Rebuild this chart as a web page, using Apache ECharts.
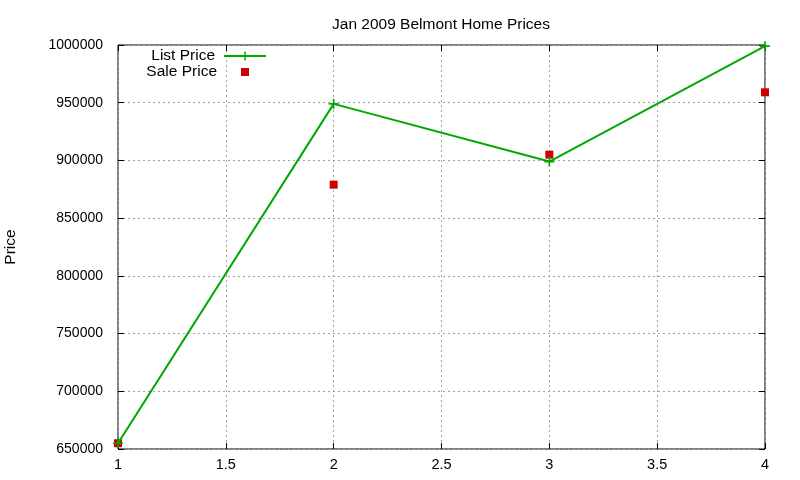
<!DOCTYPE html>
<html>
<head>
<meta charset="utf-8">
<script src="https://cdn.jsdelivr.net/npm/echarts@6/dist/echarts.min.js"></script>
<style>
  html, body { margin: 0; padding: 0; background: #fff; }
  #chart { width: 800px; height: 480px; }
</style>
</head>
<body>
<div id="chart"></div>
<script>
// home numbers (x = house index)
var houses = [1, 2, 3, 4];
var listPrice = [655000, 949000, 899000, 999000];
var salePrice = [655000, 879000, 905000, 959000];

var FONT = '"Liberation Sans", Arial, sans-serif';
var GREEN = '#00a800';
var RED = '#cc0000';
var PLUS = 'path://M4.2,0H5.8V4.2H10V5.8H5.8V10H4.2V5.8H0V4.2H4.2Z';

function pairs(xs, ys) {
    var out = [];
    for (var i = 0; i < xs.length; i++) {
        out.push([xs[i], ys[i]]);
    }
    return out;
}

var myChart = echarts.init(document.getElementById('chart'));
var option = {
    animation: false,
    backgroundColor: '#fff',
    title: {
        text: 'Jan 2009 Belmont Home Prices',
        left: 436,
        textAlign: 'center',
        top: 12,
        textStyle: { fontFamily: FONT, fontSize: 15.5, fontWeight: 'normal', color: '#000' }
    },
    legend: [{
        data: ['List Price'],
        right: 533,
        top: 48,
        padding: 0,
        align: 'right',
        itemWidth: 42,
        itemHeight: 11,
        textStyle: { fontFamily: FONT, fontSize: 15.5, color: '#000', padding: [0, 4, 0, 0] }
    }, {
        data: [{ name: 'Sale Price', icon: 'rect' }],
        right: 551,
        top: 64,
        padding: 0,
        align: 'right',
        itemWidth: 8,
        itemHeight: 8,
        textStyle: { fontFamily: FONT, fontSize: 15.5, color: '#000', padding: [0, 19, 0, 0] }
    }],
    grid: {
        left: 118,
        right: 35,
        top: 45,
        bottom: 31,
        outerBoundsMode: 'none',
        show: true,
        borderColor: '#000',
        borderWidth: 1
    },
    xAxis: [{
        type: 'value',
        min: 1,
        max: 4,
        interval: 0.5,
        axisLine: { show: false },
        axisTick: { show: true, inside: true, length: 6, lineStyle: { color: '#000' } },
        axisLabel: { margin: 8, fontFamily: FONT, fontSize: 14.5, color: '#000' },
        splitLine: { show: true, lineStyle: { color: '#a0a0a0', type: [2, 3] } }
    }, {
        type: 'value',
        position: 'top',
        min: 1,
        max: 4,
        interval: 0.5,
        axisLine: { show: false },
        axisTick: { show: true, inside: true, length: 6, lineStyle: { color: '#000' } },
        axisLabel: { show: false },
        splitLine: { show: false }
    }],
    yAxis: [{
        type: 'value',
        name: 'Price',
        nameLocation: 'middle',
        nameGap: 99,
        nameTextStyle: { fontFamily: FONT, fontSize: 15.5, color: '#000' },
        min: 650000,
        max: 1000000,
        interval: 50000,
        axisLine: { show: false },
        axisTick: { show: true, inside: true, length: 6, lineStyle: { color: '#000' } },
        axisLabel: {
            margin: 15, fontFamily: FONT, fontSize: 14, color: '#000',
            formatter: function (v) { return String(v); }
        },
        splitLine: { show: true, lineStyle: { color: '#a0a0a0', type: [2, 3] } }
    }, {
        type: 'value',
        position: 'right',
        min: 650000,
        max: 1000000,
        interval: 50000,
        axisLine: { show: false },
        axisTick: { show: true, inside: true, length: 6, lineStyle: { color: '#000' } },
        axisLabel: { show: false },
        splitLine: { show: false }
    }],
    series: [{
        name: 'List Price',
        type: 'line',
        data: pairs(houses, listPrice),
        symbol: PLUS,
        symbolSize: 10,
        showAllSymbol: true,
        clip: false,
        lineStyle: { color: GREEN, width: 2 },
        itemStyle: { color: GREEN }
    }, {
        name: 'Sale Price',
        type: 'scatter',
        data: pairs(houses, salePrice),
        symbol: 'rect',
        symbolSize: 8,
        clip: false,
        itemStyle: { color: RED, opacity: 1 }
    }]
};
myChart.setOption(option);
</script>
</body>
</html>
